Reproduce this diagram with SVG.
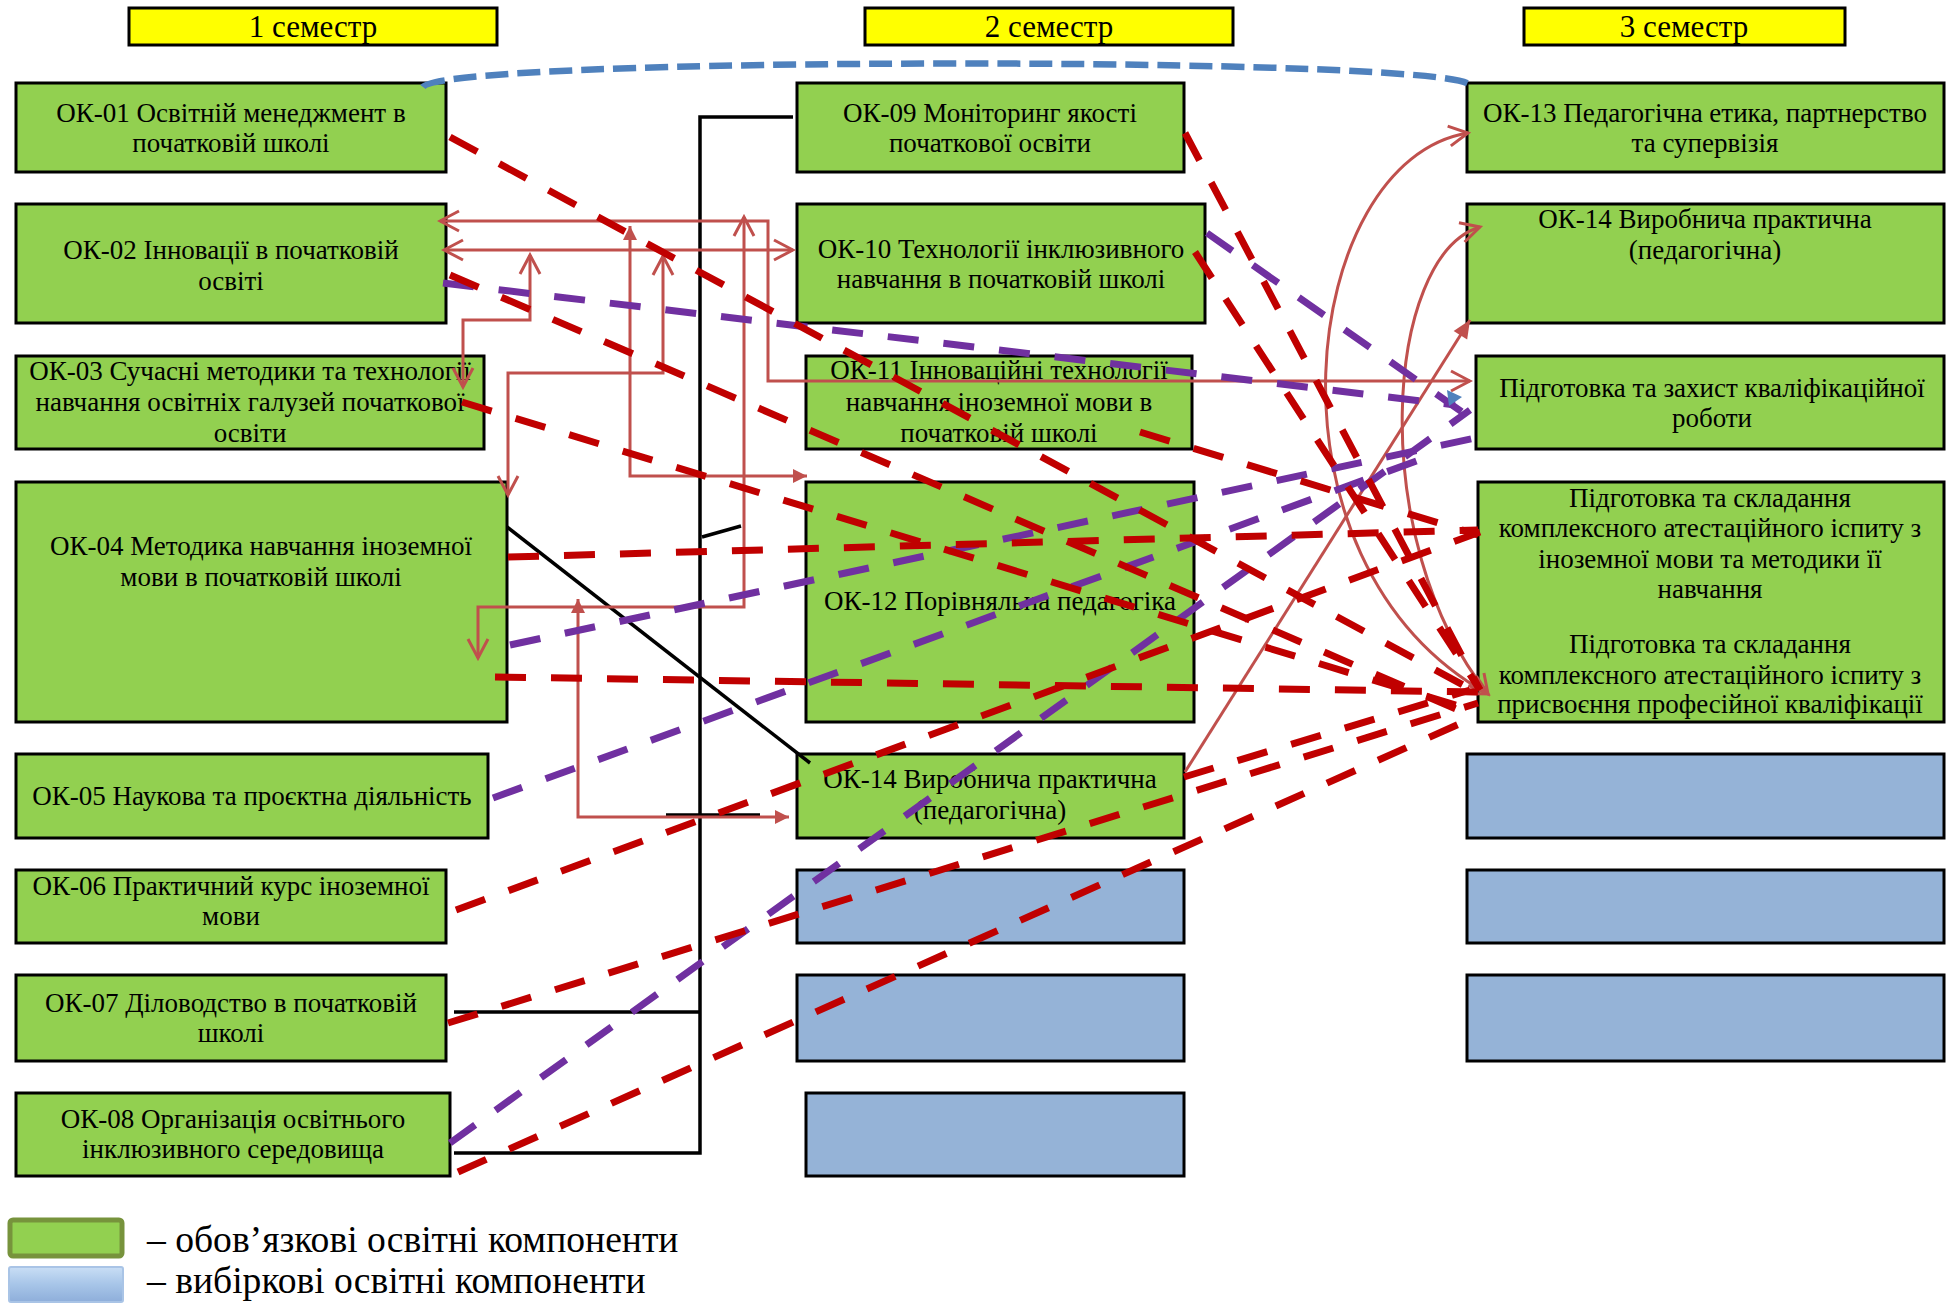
<svg xmlns="http://www.w3.org/2000/svg" width="1950" height="1304" viewBox="0 0 1950 1304">
<style>
text{font-family:"Liberation Serif","Times New Roman",serif;fill:#000;}
.t{font-size:27px;text-anchor:middle;}
.h{font-size:31px;text-anchor:middle;}
.lg{font-size:37.6px;}
.hdr{fill:#FFFF00;stroke:#000;stroke-width:3;}
.g{fill:#92D050;stroke:#000;stroke-width:3;}
.b{fill:#95B3D7;stroke:#000;stroke-width:3;}
.rd{fill:none;stroke:#C00000;stroke-width:7;stroke-dasharray:31 25;}
.pd{fill:none;stroke:#7030A0;stroke-width:7;stroke-dasharray:31 25;}
.rs{fill:none;stroke:#C0504D;stroke-width:3;marker-start:url(#oa);marker-end:url(#oa);}
.rf{fill:none;stroke:#C0504D;stroke-width:3;marker-start:url(#fb);marker-end:url(#fb);}
.bk{fill:none;stroke:#000;stroke-width:3.5;}
</style>
<defs>
<marker id="oa" viewBox="-22 -13 25 26" refX="0" refY="0" markerWidth="25" markerHeight="26" markerUnits="userSpaceOnUse" orient="auto-start-reverse">
<path d="M-19,-10 L0,0 L-19,10" fill="none" stroke="#C0504D" stroke-width="3"/>
</marker>
<marker id="fa" viewBox="-20 -10 22 20" refX="0" refY="0" markerWidth="22" markerHeight="20" markerUnits="userSpaceOnUse" orient="auto">
<path d="M-18,-8 L0,0 L-18,8 Z" fill="#C0504D"/>
</marker>
<marker id="fb" viewBox="-16 -9 18 18" refX="0" refY="0" markerWidth="18" markerHeight="18" markerUnits="userSpaceOnUse" orient="auto-start-reverse">
<path d="M-14,-7 L0,0 L-14,7 Z" fill="#C0504D"/>
</marker>
<linearGradient id="bg" x1="0" y1="0" x2="0" y2="1">
<stop offset="0" stop-color="#C9DEF5"/>
<stop offset="0.5" stop-color="#A7C5E8"/>
<stop offset="1" stop-color="#8EAEDA"/>
</linearGradient>
</defs>
<rect width="1950" height="1304" fill="#fff"/>
<g id="headers">
<g id="sem1"><rect class="hdr" x="129" y="8" width="368" height="37"/><text class="h" x="313" y="37">1 семестр</text></g>
<g id="sem2"><rect class="hdr" x="865" y="8" width="368" height="37"/><text class="h" x="1049" y="37">2 семестр</text></g>
<g id="sem3"><rect class="hdr" x="1524" y="8" width="321" height="37"/><text class="h" x="1684" y="37">3 семестр</text></g>
</g>
<g id="nodes">
<g id="ok01"><rect class="g" x="16" y="83" width="430" height="89"/><text class="t" x="231" y="122">ОК-01 Освітній менеджмент в</text><text class="t" x="231" y="152">початковій школі</text></g>
<g id="ok02"><rect class="g" x="16" y="204" width="430" height="119"/><text class="t" x="231" y="259">ОК-02 Інновації в початковій</text><text class="t" x="231" y="290">освіті</text></g>
<g id="ok03"><rect class="g" x="16" y="356" width="468" height="93"/><text class="t" x="250" y="380">ОК-03 Сучасні методики та технології</text><text class="t" x="250" y="411">навчання освітніх галузей початкової</text><text class="t" x="250" y="442">освіти</text></g>
<g id="ok04"><rect class="g" x="16" y="482" width="491" height="240"/><text class="t" x="261" y="555">ОК-04 Методика навчання іноземної</text><text class="t" x="261" y="586">мови в початковій школі</text></g>
<g id="ok05"><rect class="g" x="16" y="754" width="472" height="84"/><text class="t" x="252" y="805">ОК-05 Наукова та проєктна діяльність</text></g>
<g id="ok06"><rect class="g" x="16" y="870" width="430" height="73"/><text class="t" x="231" y="895">ОК-06 Практичний курс іноземної</text><text class="t" x="231" y="925">мови</text></g>
<g id="ok07"><rect class="g" x="16" y="975" width="430" height="86"/><text class="t" x="231" y="1012">ОК-07 Діловодство в початковій</text><text class="t" x="231" y="1042">школі</text></g>
<g id="ok08"><rect class="g" x="16" y="1093" width="434" height="83"/><text class="t" x="233" y="1128">ОК-08 Організація освітнього</text><text class="t" x="233" y="1158">інклюзивного середовища</text></g>
<g id="ok09"><rect class="g" x="797" y="83" width="387" height="89"/><text class="t" x="990" y="122">ОК-09 Моніторинг якості</text><text class="t" x="990" y="152">початкової освіти</text></g>
<g id="ok10"><rect class="g" x="797" y="204" width="408" height="119"/><text class="t" x="1001" y="258">ОК-10 Технології інклюзивного</text><text class="t" x="1001" y="288">навчання в початковій школі</text></g>
<g id="ok11"><rect class="g" x="806" y="356" width="386" height="93"/><text class="t" x="999" y="379">ОК-11 Інноваційні технології</text><text class="t" x="999" y="411">навчання іноземної мови в</text><text class="t" x="999" y="442">початковій школі</text></g>
<g id="ok12"><rect class="g" x="806" y="482" width="388" height="240"/><text class="t" x="1000" y="610">ОК-12 Порівняльна педагогіка</text></g>
<g id="ok14a"><rect class="g" x="797" y="754" width="387" height="84"/><text class="t" x="990" y="788">ОК-14 Виробнича практична</text><text class="t" x="990" y="819">(педагогічна)</text></g>
<g id="el2a"><rect class="b" x="797" y="870" width="387" height="73"/></g>
<g id="el2b"><rect class="b" x="797" y="975" width="387" height="86"/></g>
<g id="el2c"><rect class="b" x="806" y="1093" width="378" height="83"/></g>
<g id="ok13"><rect class="g" x="1467" y="83" width="477" height="89"/><text class="t" x="1705" y="122">ОК-13 Педагогічна етика, партнерство</text><text class="t" x="1705" y="152">та супервізія</text></g>
<g id="ok14b"><rect class="g" x="1467" y="204" width="477" height="119"/><text class="t" x="1705" y="228">ОК-14 Виробнича практична</text><text class="t" x="1705" y="259">(педагогічна)</text></g>
<g id="thesis"><rect class="g" x="1476" y="356" width="468" height="93"/><text class="t" x="1712" y="397">Підготовка та захист кваліфікаційної</text><text class="t" x="1712" y="427">роботи</text></g>
<g id="exam"><rect class="g" x="1478" y="482" width="466" height="240"/>
<text class="t" x="1710" y="507">Підготовка та складання</text>
<text class="t" x="1710" y="537">комплексного атестаційного іспиту з</text>
<text class="t" x="1710" y="568">іноземної мови та методики її</text>
<text class="t" x="1710" y="598">навчання</text>
<text class="t" x="1710" y="653">Підготовка та складання</text>
<text class="t" x="1710" y="684">комплексного атестаційного іспиту з</text>
<text class="t" x="1710" y="713">присвоєння професійної кваліфікації</text></g>
<g id="el3a"><rect class="b" x="1467" y="754" width="477" height="84"/></g>
<g id="el3b"><rect class="b" x="1467" y="870" width="477" height="73"/></g>
<g id="el3c"><rect class="b" x="1467" y="975" width="477" height="86"/></g>
</g>
<g id="connectors">
<path d="M423,87 C445,56 1450,56 1470,85" fill="none" stroke="#4F81BD" stroke-width="6.5" stroke-dasharray="23 9"/>
<g id="black">
<path class="bk" d="M793,117 L700,117 L700,1153 L454,1153"/>
<path class="bk" d="M454,1012 L700,1012"/>
<path class="bk" d="M666,815 L760,815"/>
<path class="bk" d="M702,537 L741,526"/>
<path class="bk" d="M507,527 L810,763"/>
</g>
<g id="solid">
<path class="rs" d="M440,221 L768,221 L768,381 L1470,381"/>
<path class="rs" d="M444,250 L793,250"/>
<path class="rs" d="M530,255 L530,320 L463,320 L463,387"/>
<path class="rf" d="M630,226 L630,476 L807,476"/>
<path class="rs" d="M744,217 L744,607 L478,607 L478,658"/>
<path class="rs" d="M663,256 L663,373 L508,373 L508,495"/>
<path class="rf" d="M578,599 L578,817 L789,817"/>
<path d="M1185,772 L1470,320" fill="none" stroke="#C0504D" stroke-width="3" marker-end="url(#fa)"/>
<path class="rs" d="M1468,133 C1300,160 1250,560 1488,694"/>
<path class="rs" d="M1480,227 C1385,255 1365,540 1488,694"/>
</g>
<g id="purple">
<path class="pd" d="M443,283 L1455,405"/>
<path class="pd" d="M1207,233 L1462,412"/>
<path class="pd" d="M510,645 L1475,438"/>
<path class="pd" d="M493,798 L1430,456"/>
<path class="pd" d="M450,1143 L1470,410"/>
<polygon points="1447,390 1462,397 1449,406" fill="#4F81BD"/>
</g>
<g id="red">
<path class="rd" d="M450,137 L1478,693"/>
<path class="rd" d="M450,275 L1470,715"/>
<path class="rd" d="M462,402 L1478,712"/>
<path class="rd" d="M508,557 L1478,530"/>
<path class="rd" d="M495,677 L1478,692"/>
<path class="rd" d="M456,910 L1480,532"/>
<path class="rd" d="M448,1023 L1478,703"/>
<path class="rd" d="M458,1172 L1468,720"/>
<path class="rd" d="M1184,777 L1470,690"/>
<path class="rd" d="M1185,133 L1480,690"/>
<path class="rd" d="M1195,252 L1480,690"/>
<path class="rd" d="M1140,432 L1478,535"/>
</g>
</g>
<g id="legend">
<rect x="10" y="1220" width="112" height="36" rx="3" fill="#92D050" stroke="#77933C" stroke-width="5"/>
<rect x="9" y="1267" width="114" height="35" rx="2" fill="url(#bg)" stroke="#A9C4E6" stroke-width="2"/>
<text class="lg" x="147" y="1252">– обов’язкові освітні компоненти</text>
<text class="lg" x="147" y="1293">– вибіркові освітні компоненти</text>
</g>
</svg>
